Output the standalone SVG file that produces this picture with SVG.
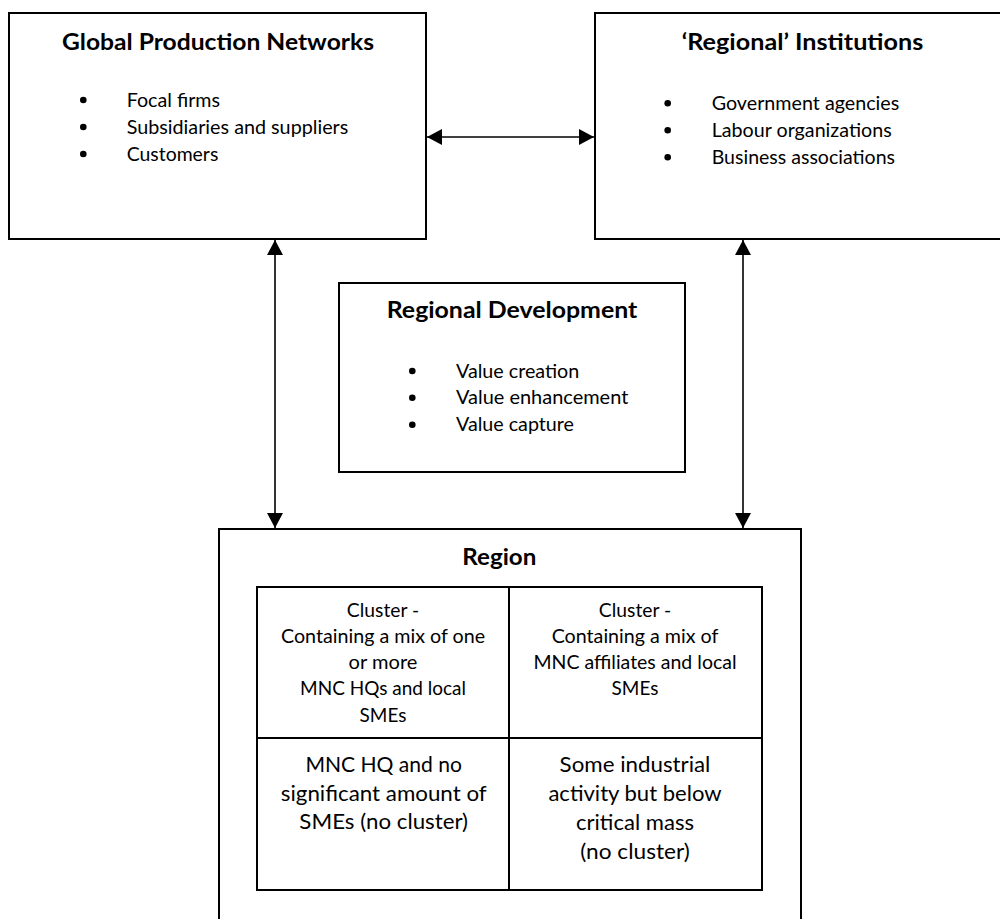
<svg xmlns="http://www.w3.org/2000/svg" width="1000" height="919" viewBox="0 0 1000 919">
<style>
.box{fill:#fff;stroke:#000;stroke-width:2}
.ln{fill:none;stroke:#000;stroke-width:2}
.t{font-family:Lato,"Liberation Sans",sans-serif;fill:#000}
.h{font-size:23.5px;font-weight:bold;text-anchor:middle}
.b{font-size:18.7px}
.s{font-size:18.7px;text-anchor:middle}
.m{font-size:21.5px;text-anchor:middle}
.con{fill:none;stroke:#000;stroke-width:1.6}
.dot{fill:#000}
</style>
<defs>
<marker id="ah" viewBox="0 0 15 16" refX="15" refY="8" markerWidth="15" markerHeight="16" markerUnits="userSpaceOnUse" orient="auto-start-reverse">
<path d="M0,0 L15,8 L0,16 z" fill="#000"/>
</marker>
</defs>
<rect width="1000" height="919" fill="#fff"/>

<g id="gpn">
<rect class="box" x="9" y="13" width="417" height="226"/>
<text class="t h" x="218" y="50" textLength="312" lengthAdjust="spacingAndGlyphs">Global Production Networks</text>
<circle class="dot" cx="83.3" cy="100" r="3.3"/>
<circle class="dot" cx="83.3" cy="127" r="3.3"/>
<circle class="dot" cx="83.3" cy="154" r="3.3"/>
<text class="t b" x="126.7" y="107" textLength="93.3" lengthAdjust="spacingAndGlyphs">Focal firms</text>
<text class="t b" x="126.7" y="134" textLength="221.6" lengthAdjust="spacingAndGlyphs">Subsidiaries and suppliers</text>
<text class="t b" x="126.7" y="161" textLength="91.6" lengthAdjust="spacingAndGlyphs">Customers</text>
</g>

<g id="institutions">
<rect class="box" x="595" y="13" width="420" height="226"/>
<text class="t h" x="802.5" y="50" textLength="241.6" lengthAdjust="spacingAndGlyphs">‘Regional’ Institutions</text>
<circle class="dot" cx="667.7" cy="103.3" r="3.3"/>
<circle class="dot" cx="667.7" cy="130.3" r="3.3"/>
<circle class="dot" cx="667.7" cy="157.3" r="3.3"/>
<text class="t b" x="711.7" y="110" textLength="187.6" lengthAdjust="spacingAndGlyphs">Government agencies</text>
<text class="t b" x="711.7" y="137" textLength="180" lengthAdjust="spacingAndGlyphs">Labour organizations</text>
<text class="t b" x="711.7" y="164" textLength="183.3" lengthAdjust="spacingAndGlyphs">Business associations</text>
</g>

<g id="development">
<rect class="box" x="339" y="283" width="346" height="189"/>
<text class="t h" x="512" y="318" textLength="250.6" lengthAdjust="spacingAndGlyphs">Regional Development</text>
<circle class="dot" cx="412.3" cy="371" r="3.3"/>
<circle class="dot" cx="412.3" cy="397.7" r="3.3"/>
<circle class="dot" cx="412.3" cy="424.7" r="3.3"/>
<text class="t b" x="456" y="377.5" textLength="123.3" lengthAdjust="spacingAndGlyphs">Value creation</text>
<text class="t b" x="456" y="404.3" textLength="172.3" lengthAdjust="spacingAndGlyphs">Value enhancement</text>
<text class="t b" x="456" y="431" textLength="118" lengthAdjust="spacingAndGlyphs">Value capture</text>
</g>

<g id="region">
<rect class="box" x="219" y="529" width="582" height="410"/>
<text class="t h" x="499.3" y="565" textLength="74" lengthAdjust="spacingAndGlyphs">Region</text>
<rect class="box" x="257" y="587" width="505" height="303"/>
<line class="ln" x1="509" y1="587" x2="509" y2="890"/>
<line class="ln" x1="257" y1="738" x2="762" y2="738"/>
</g>

<g id="cell-hq-cluster">
<text class="t s" x="383" y="616.7" textLength="72.3" lengthAdjust="spacingAndGlyphs">Cluster -</text>
<text class="t s" x="383" y="643.3" textLength="204.1" lengthAdjust="spacingAndGlyphs">Containing a mix of one</text>
<text class="t s" x="383" y="669.3" textLength="68.8" lengthAdjust="spacingAndGlyphs">or more</text>
<text class="t s" x="383" y="695.3" textLength="165.9" lengthAdjust="spacingAndGlyphs">MNC HQs and local</text>
<text class="t s" x="383" y="721.7" textLength="46.8" lengthAdjust="spacingAndGlyphs">SMEs</text>
</g>

<g id="cell-affiliate-cluster">
<text class="t s" x="635" y="616.7" textLength="72.3" lengthAdjust="spacingAndGlyphs">Cluster -</text>
<text class="t s" x="635" y="643.3" textLength="166.6" lengthAdjust="spacingAndGlyphs">Containing a mix of</text>
<text class="t s" x="635" y="669.3" textLength="203.1" lengthAdjust="spacingAndGlyphs">MNC affiliates and local</text>
<text class="t s" x="635" y="695.3" textLength="46.8" lengthAdjust="spacingAndGlyphs">SMEs</text>
</g>

<g id="cell-hq-only">
<text class="t m" x="383.7" y="771.7" textLength="156.6" lengthAdjust="spacingAndGlyphs">MNC HQ and no</text>
<text class="t m" x="383.7" y="801" textLength="205.9" lengthAdjust="spacingAndGlyphs">significant amount of</text>
<text class="t m" x="383.7" y="829.3" textLength="168.7" lengthAdjust="spacingAndGlyphs">SMEs (no cluster)</text>
</g>

<g id="cell-below-mass">
<text class="t m" x="635" y="771.7" textLength="150.8" lengthAdjust="spacingAndGlyphs">Some industrial</text>
<text class="t m" x="635" y="801" textLength="173.2" lengthAdjust="spacingAndGlyphs">activity but below</text>
<text class="t m" x="635" y="830" textLength="118.1" lengthAdjust="spacingAndGlyphs">critical mass</text>
<text class="t m" x="635" y="859.3" textLength="109.5" lengthAdjust="spacingAndGlyphs">(no cluster)</text>
</g>

<g id="connectors">
<line class="con" x1="427" y1="137" x2="594" y2="137" marker-start="url(#ah)" marker-end="url(#ah)"/>
<line class="con" x1="275" y1="240" x2="275" y2="528" marker-start="url(#ah)" marker-end="url(#ah)"/>
<line class="con" x1="743" y1="240" x2="743" y2="528" marker-start="url(#ah)" marker-end="url(#ah)"/>
</g>
</svg>
